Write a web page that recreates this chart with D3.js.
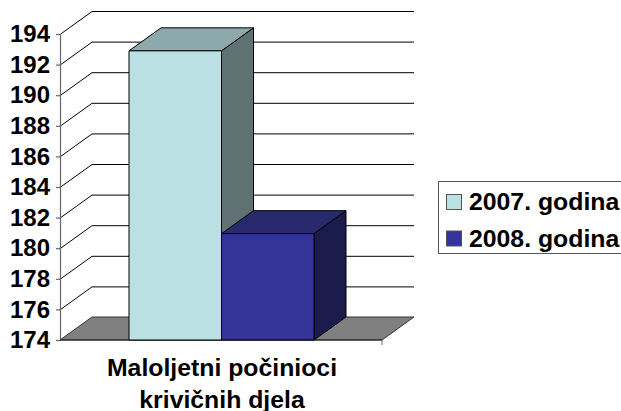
<!DOCTYPE html>
<html><head><meta charset="utf-8">
<script src="https://cdnjs.cloudflare.com/ajax/libs/d3/7.8.5/d3.min.js"></script>
<style>html,body{margin:0;padding:0;background:#fff}svg{display:block}text{font-family:"Liberation Sans",Arial,sans-serif;font-weight:bold;fill:#000}</style>
</head><body><svg id="c" width="621" height="411"></svg>
<script>
const seriesNames=["2007. godina","2008. godina"];
const seriesValues=[192.9,180.95];
const categoryLines=["Maloljetni počinioci","krivičnih djela"];
const tickValues=[174,176,178,180,182,184,186,188,190,192,194];
const front=["#bae0e3","#333399"], topC=["#8ea9ab","#29296e"], side=["#5f7172","#1b1b4d"];
const svg=d3.select("#c");
const y=d3.scaleLinear().domain([174,194]).range([340,34]);
const xOuter=d3.scaleLinear().domain([0,1]).range([60,382]);
const xBar=d3.scaleBand().domain(seriesNames).range([129,314]);
const dx=32,dy=-23;
const pts=a=>a.map(p=>p.join(",")).join(" ");
// floor
svg.append("polygon").attr("fill","#808080").attr("stroke","#333").attr("stroke-width",1)
 .attr("points",pts([[xOuter(0),y(174)],[xOuter(0)+dx,y(174)+dy],[xOuter(1)+dx,y(174)+dy],[xOuter(1),y(174)]]));
// gridlines on side and back walls
tickValues.forEach(v=>{
 if(v>174) svg.append("polyline").attr("fill","none").attr("stroke","#000").attr("stroke-width",1)
  .attr("points",pts([[xOuter(0),y(v)+.5],[xOuter(0)+dx,y(v)+dy+.5],[xOuter(1)+dx,y(v)+dy+.5]]));
});
// axes
const ax=svg.append("g").attr("transform",`translate(${xOuter(0)},0)`)
 .call(d3.axisLeft(y).tickValues(tickValues).tickSize(4).tickPadding(6).tickFormat(d3.format("d")));
ax.selectAll("path,line").attr("stroke","#666").attr("stroke-width",1.2);
ax.selectAll("text").style("font-size","24px").attr("fill","#000");
const base=svg.append("g");
base.append("line").attr("x1",xOuter(0)).attr("x2",xOuter(1)).attr("y1",y(174)).attr("y2",y(174)).attr("stroke","#222").attr("stroke-width",1.2);
base.append("line").attr("x1",xOuter(1)).attr("x2",xOuter(1)).attr("y1",y(174)).attr("y2",y(174)+5).attr("stroke","#666");
// bars
seriesValues.forEach((v,i)=>{
 const n=seriesNames[i],x0=xBar(n),x1=x0+xBar.bandwidth(),t=y(v),b=y(174);
 const g=svg.append("g").attr("stroke","#000").attr("stroke-width",1).attr("stroke-linejoin","round");
 g.append("polygon").attr("fill",side[i]).attr("points",pts([[x1,t],[x1+dx,t+dy],[x1+dx,b+dy],[x1,b]]));
 g.append("polygon").attr("fill",topC[i]).attr("points",pts([[x0,t],[x0+dx,t+dy],[x1+dx,t+dy],[x1,t]]));
 g.append("rect").attr("fill",front[i]).attr("x",x0).attr("y",t).attr("width",x1-x0).attr("height",b-t);
});
// category label
svg.append("text").attr("text-anchor","middle").attr("x",222).attr("y",376).style("font-size","24.8px").text(categoryLines[0]);
svg.append("text").attr("text-anchor","middle").attr("x",222).attr("y",408).style("font-size","24.8px").text(categoryLines[1]);
// legend
svg.append("rect").attr("x",438.5).attr("y",181.5).attr("width",200).attr("height",72).attr("fill","#fff").attr("stroke","#555");
seriesNames.forEach((n,i)=>{
 const yy=194+i*36.5;
 svg.append("rect").attr("x",446.5).attr("y",yy+.5).attr("width",15).attr("height",15).attr("fill",front[i]).attr("stroke","#555");
 svg.append("text").attr("x",469).attr("y",yy+16).style("font-size","24.8px").text(n);
});
</script></body></html>
